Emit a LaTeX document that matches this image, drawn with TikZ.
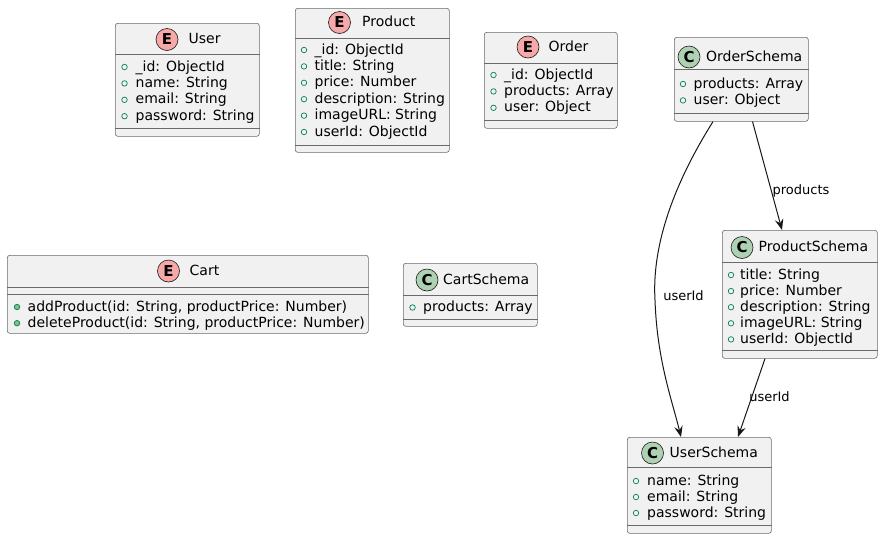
\documentclass[tikz,border=0pt]{standalone}
\usepackage{fontspec}
\setmainfont{DejaVu Sans}
\usepackage{tikz}
\usetikzlibrary{arrows.meta}

\definecolor{umlborder}{HTML}{181818}
\definecolor{boxline}{HTML}{6A6A6A}
\definecolor{umlfill}{HTML}{F1F1F1}
\definecolor{spotred}{HTML}{F7A8A8}
\definecolor{spotgreen}{HTML}{ADD1B2}
\definecolor{fieldgreen}{HTML}{038048}
\definecolor{methodgreen}{HTML}{84BE84}

\tikzset{
  cls/.style={draw=boxline, fill=umlfill, line width=0.6pt, rounded corners=2.5pt, inner sep=0pt, anchor=north west},
  sepline/.style={draw=boxline, line width=0.6pt},
  spotE/.style={circle, draw=umlborder, line width=0.6pt, fill=spotred, minimum size=22pt, inner sep=0pt, font=\fontsize{15}{16}\selectfont\bfseries},
  spotC/.style={spotE, fill=spotgreen},
  title/.style={anchor=west, inner sep=0pt, text height=10.5pt, text depth=2.5pt, font=\fontsize{14}{16}\selectfont},
  attr/.style={title},
  fld/.style={circle, draw=fieldgreen, line width=0.7pt, minimum size=5.5pt, inner sep=0pt},
  mth/.style={fld, fill=methodgreen},
  rel/.style={draw=umlborder, line width=1pt, -{Stealth[length=11pt, width=8.5pt, inset=4pt]}},
  lbl/.style={inner sep=0pt, font=\fontsize{13}{15}\selectfont}
}

\begin{document}
\begin{tikzpicture}[x=1pt, y=-1pt]
\useasboundingbox[fill=white] (0,0) rectangle (883,539);

% User
\node[cls, minimum width=144pt, minimum height=113pt] (user) at (115,23) {};
\draw[sepline] (user.west |- 0,54.5) -- (user.east |- 0,54.5);
\draw[sepline] (user.west |- 0,128) -- (user.east |- 0,128);
\node[spotE] (user-s) at (167,39.5) {E};
\node[title] (user-t) at (188.5,39.5) {User};
\foreach \txt [count=\i from 0] in {\_id: ObjectId, name: String, email: String, password: String}{
  \node[fld] (user-b\i) at (124.5,{67+16.4*\i}) {};
  \node[attr] (user-a\i) at (135.5,{67+16.4*\i}) {\txt};
}

% Product
\node[cls, minimum width=154pt, minimum height=144pt] (product) at (295,8) {};
\draw[sepline] (product.west |- 0,38.5) -- (product.east |- 0,38.5);
\draw[sepline] (product.west |- 0,145) -- (product.east |- 0,145);
\node[spotE] (product-s) at (339.5,22.5) {E};
\node[title] (product-t) at (362,22.5) {Product};
\foreach \txt [count=\i from 0] in {\_id: ObjectId, title: String, price: Number, description: String, imageURL: String, userId: ObjectId}{
  \node[fld] (product-b\i) at (304,{50+16.4*\i}) {};
  \node[attr] (product-a\i) at (314.5,{50+16.4*\i}) {\txt};
}

% Order
\node[cls, minimum width=133pt, minimum height=96pt] (order) at (484,32) {};
\draw[sepline] (order.west |- 0,63.5) -- (order.east |- 0,63.5);
\draw[sepline] (order.west |- 0,120) -- (order.east |- 0,120);
\node[spotE] (order-s) at (528,47) {E};
\node[title] (order-t) at (548.5,47) {Order};
\foreach \txt [count=\i from 0] in {\_id: ObjectId, products: Array, user: Object}{
  \node[fld] (order-b\i) at (493.5,{75+16.4*\i}) {};
  \node[attr] (order-a\i) at (504,{75+16.4*\i}) {\txt};
}

% OrderSchema
\node[cls, minimum width=134pt, minimum height=84pt] (orderschema) at (674,37) {};
\draw[sepline] (orderschema.west |- 0,69) -- (orderschema.east |- 0,69);
\draw[sepline] (orderschema.west |- 0,113) -- (orderschema.east |- 0,113);
\node[spotC] (orderschema-s) at (689,57) {C};
\node[title] (orderschema-t) at (706,57) {OrderSchema};
\foreach \txt [count=\i from 0] in {products: Array, user: Object}{
  \node[fld] (orderschema-b\i) at (683,{84+16.4*\i}) {};
  \node[attr] (orderschema-a\i) at (693.5,{84+16.4*\i}) {\txt};
}

% Cart
\node[cls, minimum width=361pt, minimum height=78pt] (cart) at (7,255) {};
\draw[sepline] (cart.west |- 0,287) -- (cart.east |- 0,287);
\draw[sepline] (cart.west |- 0,294.5) -- (cart.east |- 0,294.5);
\node[spotE] (cart-s) at (168.5,271) {E};
\node[title] (cart-t) at (189.5,271) {Cart};
\foreach \txt [count=\i from 0] in {{addProduct(id: String, productPrice: Number)}, {deleteProduct(id: String, productPrice: Number)}}{
  \node[mth] (cart-b\i) at (17,{307+16.2*\i}) {};
  \node[attr] (cart-a\i) at (27.5,{307+16.2*\i}) {\txt};
}

% CartSchema
\node[cls, minimum width=134pt, minimum height=63pt] (cartschema) at (403,263) {};
\draw[sepline] (cartschema.west |- 0,295) -- (cartschema.east |- 0,295);
\draw[sepline] (cartschema.west |- 0,319) -- (cartschema.east |- 0,319);
\node[spotC] (cartschema-s) at (427,280) {C};
\node[title] (cartschema-t) at (443,280) {CartSchema};
\node[fld] (cartschema-b0) at (412.5,307.5) {};
\node[attr] (cartschema-a0) at (423,307.5) {products: Array};

% ProductSchema
\node[cls, minimum width=155pt, minimum height=128pt] (productschema) at (722,230) {};
\draw[sepline] (productschema.west |- 0,262) -- (productschema.east |- 0,262);
\draw[sepline] (productschema.west |- 0,350) -- (productschema.east |- 0,350);
\node[spotC] (productschema-s) at (742,247.5) {C};
\node[title] (productschema-t) at (758.5,247.5) {ProductSchema};
\foreach \txt [count=\i from 0] in {title: String, price: Number, description: String, imageURL: String, userId: ObjectId}{
  \node[fld] (productschema-b\i) at (731,{275+16.1*\i}) {};
  \node[attr] (productschema-a\i) at (740,{275+16.1*\i}) {\txt};
}

% UserSchema
\node[cls, minimum width=144pt, minimum height=96pt] (userschema) at (627,437) {};
\draw[sepline] (userschema.west |- 0,467) -- (userschema.east |- 0,467);
\draw[sepline] (userschema.west |- 0,525) -- (userschema.east |- 0,525);
\node[spotC] (userschema-s) at (652.5,453) {C};
\node[title] (userschema-t) at (669.5,453) {UserSchema};
\foreach \txt [count=\i from 0] in {name: String, email: String, password: String}{
  \node[fld] (userschema-b\i) at (636,{481+16*\i}) {};
  \node[attr] (userschema-a\i) at (647,{481+16*\i}) {\txt};
}

% relations
\coordinate (os1) at (orderschema.south -| 713,0);
\coordinate (os2) at (orderschema.south -| 752.5,0);
\coordinate (ps1) at (productschema.north -| 782,0);
\coordinate (ps2) at (productschema.south -| 765,0);
\coordinate (us1) at (userschema.north -| 681,0);
\coordinate (us2) at (userschema.north -| 738,0);

\draw[rel] (os1) .. controls (670,190) and (652,250) .. (655,300) .. controls (657,360) and (672,400) .. (us1);
\draw[rel] (os2) -- (ps1);
\draw[rel] (ps2) -- (us2);
\node[lbl] (l-userid1) at (683.5,296) {userId};
\node[lbl] (l-products) at (801,191) {products};
\node[lbl] (l-userid2) at (769.5,397) {userId};
\end{tikzpicture}
\end{document}
